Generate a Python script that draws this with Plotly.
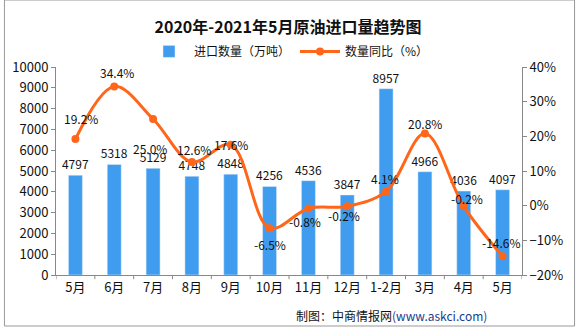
import plotly.graph_objects as go

categories = ["5月", "6月", "7月", "8月", "9月", "10月", "11月", "12月", "1-2月", "3月", "4月", "5月"]
volume = [4797, 5318, 5129, 4748, 4848, 4256, 4536, 3847, 8957, 4966, 4036, 4097]
yoy = [19.2, 34.4, 25.0, 12.6, 17.6, -6.5, -0.8, -0.2, 4.1, 20.8, -0.2, -14.6]
# label pixel offsets (style) for the yoy labels
yoy_dx = [6, 3, -3, 2, 0, 0, -3, -3, -1, 0, 3, -1]
yoy_dy = [21, 14, -29, 12, 0, -16, -13, -9, 13, 10, 8, 14]

x = list(range(len(categories)))
BAR = "#3F9CEE"
LINE = "#FF6619"
FONT = "Noto Sans CJK SC"

fig = go.Figure()
fig.add_trace(go.Bar(
    x=x, y=volume, name="进口数量（万吨）", marker_color=BAR, width=0.36,
    text=[str(v) for v in volume], textposition="outside", constraintext="none",
    textfont=dict(size=12, color="#111"), cliponaxis=False,
))
fig.add_trace(go.Scatter(
    x=x, y=yoy, name="数量同比（%）", yaxis="y2", mode="lines+markers",
    line=dict(color=LINE, width=3, shape="spline", smoothing=1.0),
    marker=dict(color=LINE, size=8),
))
for i, v in enumerate(yoy):
    fig.add_annotation(x=i, y=v, yref="y2", text=f"{v:.1f}%", showarrow=False,
                       xshift=yoy_dx[i], yshift=yoy_dy[i],
                       font=dict(size=12, color="#111", family=FONT))

fig.add_annotation(xref="paper", yref="paper", x=0.93, y=-0.197, xanchor="right", yanchor="middle",
                   showarrow=False,
                   text="制图：中商情报网<span style='color:#1a3c8c'>(www.askci.com)</span>",
                   font=dict(size=12, color="#111", family=FONT))

fig.update_layout(
    width=576, height=327,
    margin=dict(l=52, r=54, t=67, b=52),
    paper_bgcolor="white", plot_bgcolor="white",
    font=dict(family=FONT, size=12, color="#111"),
    title=dict(text="<b>2020年-2021年5月原油进口量趋势图</b>", x=0.5, xanchor="center",
               y=0.915, yanchor="middle", font=dict(size=16, color="#111")),
    legend=dict(orientation="h", x=0.5, xanchor="center", y=1.075, yanchor="middle",
                font=dict(size=12), itemwidth=40, bgcolor="rgba(0,0,0,0)"),
    bargap=0.6,
    showlegend=True,
    xaxis=dict(tickmode="array", tickvals=x, ticktext=categories, range=[-0.5, 11.5],
               showline=True, linecolor="#888", ticks="", showgrid=False,
               tickfont=dict(size=13)),
    yaxis=dict(range=[0, 10000], dtick=1000, tickformat="d", showline=True, linecolor="#888",
               ticks="outside", ticklen=4, tickcolor="#888", showgrid=False, zeroline=False,
               tickfont=dict(size=13)),
    yaxis2=dict(range=[-20, 40], dtick=10, overlaying="y", side="right", ticksuffix="%",
                showline=True, linecolor="#888", ticks="outside", ticklen=4, tickcolor="#888",
                showgrid=False, zeroline=False, tickfont=dict(size=13)),
    shapes=[dict(type="rect", xref="paper", yref="paper", x0=-52/470, x1=1+53/470,
                 y0=-51/208, y1=1+67/208, line=dict(color="#999", width=1))],
)
# category separator ticks at bottom
for i in range(len(categories) + 1):
    fig.add_shape(type="line", xref="x", yref="paper", x0=i - 0.5, x1=i - 0.5, y0=0, y1=-0.02,
                  line=dict(color="#888", width=1))

fig.write_html("out.html")
